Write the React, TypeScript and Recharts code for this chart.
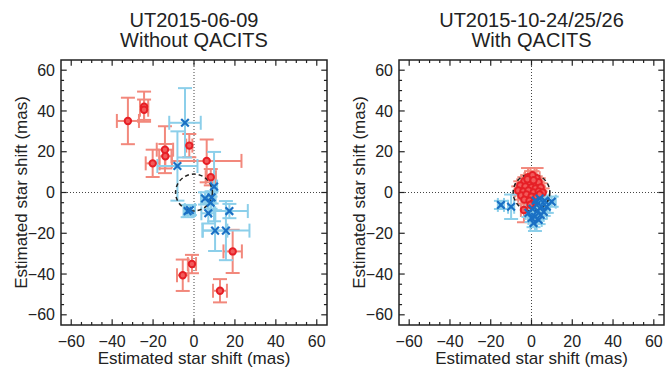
import React from "react";
import {
  ScatterChart,
  Scatter,
  XAxis,
  YAxis,
  ErrorBar,
  ReferenceLine,
  ReferenceArea,
  ReferenceDot,
} from "recharts";

// [x, y, x error, y error] in mas
type Pt = [number, number, number, number];

const LEFT_RED: Pt[] = [
  [-32.3, 35.1, 5.4, 11.4],
  [-24.4, 42.1, 2, 7.4],
  [-24.4, 40.6, 2, 5],
  [-2.3, 23.0, 1.5, 5.7],
  [-14.2, 21.0, 4, 11.5],
  [-14.0, 17.8, 3, 6],
  [-20.2, 14.3, 3.4, 6.7],
  [6.2, 15.5, 17, 10.5],
  [8.2, 7.5, 2.5, 4],
  [18.9, -28.9, 4.5, 10.6],
  [-1.0, -35.1, 2, 4.5],
  [-5.5, -40.6, 2.8, 7.7],
  [12.7, -48.2, 3.4, 5.7],
];

const LEFT_BLUE: Pt[] = [
  [-4.4, 34.2, 7.7, 17],
  [-8.1, 13.0, 9.8, 17],
  [9.8, 2.9, 1.5, 17],
  [5.4, -2.9, 2, 3],
  [8.6, -2.4, 2, 3],
  [8.1, -5.0, 1.5, 3],
  [-2.0, -8.6, 2.5, 2.5],
  [-3.1, -9.1, 2, 3],
  [7.0, -10.2, 3.4, 5],
  [17.3, -9.1, 9, 3.5],
  [10.3, -18.7, 6, 10],
  [15.6, -18.7, 11.5, 14.5],
];

const RIGHT_RED: Pt[] = [
  [-1.7, 7.5, 1.5, 4.5],
  [2.5, 7.0, 1.5, 5],
  [0.5, 8.5, 1, 2],
  [-3.5, 5.5, 1.5, 2],
  [-1.0, 5.0, 1.5, 2],
  [1.5, 4.5, 1.5, 2],
  [3.5, 5.0, 1.5, 2],
  [-5.5, 3.5, 1.5, 2],
  [-3.0, 3.0, 1.5, 2],
  [0.0, 2.5, 1.5, 2],
  [2.0, 2.0, 1.5, 2],
  [4.5, 2.5, 1.5, 2],
  [-6.5, 1.0, 1.5, 2],
  [-4.0, 0.5, 1.5, 2],
  [-1.5, 1.0, 1.5, 2],
  [1.0, 0.0, 1.5, 2],
  [3.5, 0.5, 1.5, 2],
  [5.5, 0.0, 1, 2],
  [-5.0, -1.5, 1.5, 2],
  [-2.5, -1.0, 1.5, 2],
  [0.0, -2.0, 1.5, 2],
  [2.5, -2.0, 1.5, 2],
  [-3.5, -3.5, 1.5, 2],
  [-1.0, -4.0, 1.5, 2],
  [1.0, -5.0, 1.5, 2.5],
  [-3.7, -8.6, 1.5, 6],
  [-2.0, 6.5, 1.5, 2],
  [1.0, 6.0, 1.5, 2],
  [4.0, -1.0, 1.5, 2],
  [-0.5, -6.0, 1.5, 2],
];

const RIGHT_BLUE: Pt[] = [
  [-15.0, -6.1, 1.5, 2],
  [-10.0, -7.0, 1.5, 6],
  [9.9, -4.5, 2, 2.5],
  [1.7, -11.9, 1.5, 7],
  [3.0, -9.0, 1.5, 2],
  [5.0, -7.0, 2, 2],
  [6.5, -4.0, 2, 2],
  [4.0, -3.0, 1.5, 2],
  [0.5, -8.0, 1.5, 2],
  [2.5, -6.0, 1.5, 2],
  [6.0, -9.5, 1.5, 2],
  [0.0, -12.5, 1.5, 2],
  [3.5, -13.5, 1.5, 2],
  [1.0, -15.0, 1.5, 2],
  [-1.5, -10.0, 1.5, 2],
  [7.5, -7.0, 1.5, 3],
  [4.5, -11.0, 1.5, 2],
  [2.0, -4.0, 1.5, 2],
];

const AXIS_TICKS = [-60, -40, -20, 0, 20, 40, 60];
const DOMAIN: [number, number] = [-65, 65];
const BEAM_RADIUS = 9; // mas, dashed circle
const AXIS_LABEL = "Estimated star shift (mas)";

const FONT = '"Liberation Sans", Arial, Helvetica, sans-serif';
const INK = "#222";

const toRows = (pts: Pt[]) => pts.map(([x, y, ex, ey]) => ({ x, y, ex, ey }));
const fmt = (v: number) => String(v).replace("-", "\u2212");

// tick marks every 5 mas, longer every 20
const tickMarks: { v: number; len: number }[] = [];
for (let v = -60; v <= 60; v += 5) tickMarks.push({ v, len: v % 20 === 0 ? 2.8 : 1.5 });

const RedDot = (p: any) => (
  <circle cx={p.cx} cy={p.cy} r={3.2} fill="#F25A5A" stroke="#E61F26" strokeWidth={2} />
);

const BlueCross = (p: any) => (
  <path
    d={`M${p.cx - 3.8},${p.cy - 3.8}L${p.cx + 3.8},${p.cy + 3.8}M${p.cx - 3.8},${p.cy + 3.8}L${p.cx + 3.8},${p.cy - 3.8}`}
    stroke="#1A70C4"
    strokeWidth={2.2}
    fill="none"
  />
);

interface PanelProps {
  left: number;
  width: number;
  rightMargin: number;
  title: [string, string];
  red: Pt[];
  blue: Pt[];
}

function Panel({ left, width, rightMargin, title, red, blue }: PanelProps) {
  const yAxisW = 61;
  const plotW = width - yAxisW - rightMargin;
  const rPix = (BEAM_RADIUS * plotW) / 130;
  const tickStyle = { fontSize: 16, fill: INK, fontFamily: FONT };
  const labelStyle = { fontSize: 17, fill: INK, fontFamily: FONT, textAnchor: "middle" as const };
  const titleLine = (top: number): React.CSSProperties => ({
    position: "absolute",
    left: yAxisW,
    top,
    width: plotW,
    height: 20,
    textAlign: "center",
    fontFamily: FONT,
    fontSize: 20,
    lineHeight: "20px",
    color: INK,
    whiteSpace: "nowrap",
  });

  return (
    <div style={{ position: "absolute", left, top: 0, width, height: 370 }}>
      <div style={titleLine(10)}>{title[0]}</div>
      <div style={titleLine(30)}>{title[1]}</div>
      <ScatterChart width={width} height={370} margin={{ top: 60, right: rightMargin, bottom: 0, left: 0 }}>
        <XAxis
          type="number"
          dataKey="x"
          domain={DOMAIN}
          ticks={AXIS_TICKS}
          allowDataOverflow
          tickLine={false}
          axisLine={false}
          tickMargin={5}
          tick={tickStyle}
          tickFormatter={fmt}
          height={45}
          label={{ value: AXIS_LABEL, position: "insideBottom", offset: 6, style: labelStyle }}
        />
        <YAxis
          type="number"
          dataKey="y"
          domain={DOMAIN}
          ticks={AXIS_TICKS}
          allowDataOverflow
          tickLine={false}
          axisLine={false}
          tickMargin={0}
          tick={tickStyle}
          tickFormatter={fmt}
          width={yAxisW}
          label={{ value: AXIS_LABEL, angle: -90, position: "insideLeft", offset: 21, style: labelStyle }}
        />
        <ReferenceLine x={0} stroke="#444" strokeWidth={1} strokeDasharray="1 2" />
        <ReferenceLine y={0} stroke="#444" strokeWidth={1} strokeDasharray="1 2" />
        <ReferenceDot x={0} y={0} r={rPix} fill="none" stroke={INK} strokeWidth={1.5} strokeDasharray="4 3" />
        <Scatter data={toRows(red)} shape={RedDot} isAnimationActive={false}>
          <ErrorBar dataKey="ex" direction="x" width={7} stroke="#F2887C" strokeWidth={2} />
          <ErrorBar dataKey="ey" direction="y" width={7} stroke="#F2887C" strokeWidth={2} />
        </Scatter>
        <Scatter data={toRows(blue)} shape={BlueCross} isAnimationActive={false}>
          <ErrorBar dataKey="ex" direction="x" width={7} stroke="#8CCFEA" strokeWidth={2} />
          <ErrorBar dataKey="ey" direction="y" width={7} stroke="#8CCFEA" strokeWidth={2} />
        </Scatter>
        <ReferenceArea x1={-65} x2={65} y1={-65} y2={65} fill="none" stroke={INK} strokeWidth={1.5} fillOpacity={0} />
        {tickMarks.map((t) => (
          <ReferenceLine key={`b${t.v}`} segment={[{ x: t.v, y: -65 }, { x: t.v, y: -65 + t.len }]} stroke={INK} strokeWidth={1.2} />
        ))}
        {tickMarks.map((t) => (
          <ReferenceLine key={`t${t.v}`} segment={[{ x: t.v, y: 65 }, { x: t.v, y: 65 - t.len }]} stroke={INK} strokeWidth={1.2} />
        ))}
        {tickMarks.map((t) => (
          <ReferenceLine key={`l${t.v}`} segment={[{ x: -65, y: t.v }, { x: -65 + t.len, y: t.v }]} stroke={INK} strokeWidth={1.2} />
        ))}
        {tickMarks.map((t) => (
          <ReferenceLine key={`r${t.v}`} segment={[{ x: 65, y: t.v }, { x: 65 - t.len, y: t.v }]} stroke={INK} strokeWidth={1.2} />
        ))}
      </ScatterChart>
    </div>
  );
}

export default function App() {
  return (
    <div style={{ position: "absolute", left: 0, top: 0, width: 665, height: 370, background: "#fff", overflow: "hidden" }}>
      <Panel left={0} width={340} rightMargin={13} title={["UT2015-06-09", "Without QACITS"]} red={LEFT_RED} blue={LEFT_BLUE} />
      <Panel left={338} width={327} rightMargin={1} title={["UT2015-10-24/25/26", "With QACITS"]} red={RIGHT_RED} blue={RIGHT_BLUE} />
    </div>
  );
}
